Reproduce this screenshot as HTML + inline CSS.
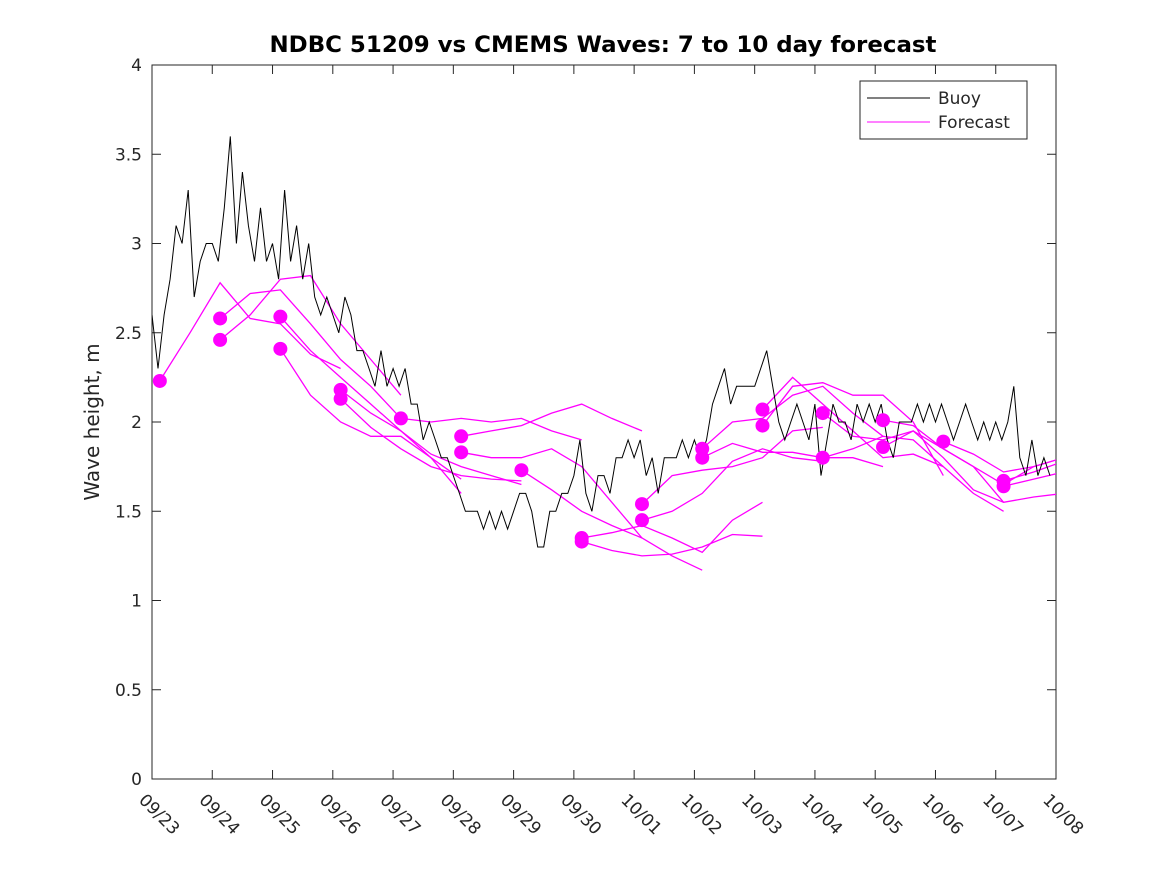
<!DOCTYPE html>
<html><head><meta charset="utf-8"><style>
body{margin:0;background:#fff;}
svg text{font-family:"DejaVu Sans","Liberation Sans",sans-serif;fill:#262626;}
</style></head><body>
<svg id="chart" width="1167" height="875" xmlns="http://www.w3.org/2000/svg">
<rect width="1167" height="875" fill="#fff"/>
<text x="603" y="52" text-anchor="middle" font-size="22" font-weight="bold" textLength="667" lengthAdjust="spacingAndGlyphs" style="fill:#000">NDBC 51209 vs CMEMS Waves: 7 to 10 day forecast</text>
<text transform="translate(99,422) rotate(-90)" text-anchor="middle" font-size="20">Wave height, m</text>
<defs><clipPath id="pc"><rect x="152" y="65" width="904" height="714"/></clipPath></defs>
<g id="axes"></g>
<g id="series" clip-path="url(#pc)"></g>
<g id="dots"></g>
<g>
<rect x="860" y="81" width="167" height="58" fill="#fff" stroke="#262626" stroke-width="1"/>
<line x1="867" y1="98" x2="930" y2="98" stroke="#000" stroke-width="1"/>
<text x="938" y="104" font-size="17">Buoy</text>
<line x1="867" y1="122" x2="930" y2="122" stroke="#f0f" stroke-width="1"/>
<text x="938" y="128" font-size="17">Forecast</text>
</g>
</svg>
<script>
const xTickLabels=["09/23","09/24","09/25","09/26","09/27","09/28","09/29","09/30","10/01","10/02","10/03","10/04","10/05","10/06","10/07","10/08"];
const yTicks=[0,0.5,1,1.5,2,2.5,3,3.5,4];
const yTickLabels=["0","0.5","1","1.5","2","2.5","3","3.5","4"];
const buoyStep=0.1;
const buoy=[2.6,2.3,2.6,2.8,3.1,3.0,3.3,2.7,2.9,3.0,
3.0,2.9,3.2,3.6,3.0,3.4,3.1,2.9,3.2,2.9,
3.0,2.8,3.3,2.9,3.1,2.8,3.0,2.7,2.6,2.7,
2.6,2.5,2.7,2.6,2.4,2.4,2.3,2.2,2.4,2.2,
2.3,2.2,2.3,2.1,2.1,1.9,2.0,1.9,1.8,1.8,
1.7,1.6,1.5,1.5,1.5,1.4,1.5,1.4,1.5,1.4,
1.5,1.6,1.6,1.5,1.3,1.3,1.5,1.5,1.6,1.6,
1.7,1.9,1.6,1.5,1.7,1.7,1.6,1.8,1.8,1.9,
1.8,1.9,1.7,1.8,1.6,1.8,1.8,1.8,1.9,1.8,
1.9,1.8,1.9,2.1,2.2,2.3,2.1,2.2,2.2,2.2,
2.2,2.3,2.4,2.2,2.0,1.9,2.0,2.1,2.0,1.9,
2.1,1.7,1.9,2.1,2.0,2.0,1.9,2.1,2.0,2.1,
2.0,2.1,1.9,1.8,2.0,2.0,2.0,2.1,2.0,2.1,
2.0,2.1,2.0,1.9,2.0,2.1,2.0,1.9,2.0,1.9,
2.0,1.9,2.0,2.2,1.8,1.7,1.9,1.7,1.8,1.7];
const fcStarts=[0.13,1.13,1.13,2.13,2.13,3.13,3.13,4.13,5.13,5.13,6.13,7.13,7.13,8.13,8.13,9.13,9.13,10.13,10.13,11.13,11.13,12.13,12.13,13.13,14.13,14.13];
const fcStep=0.5;
const fcValues=[
[2.23,2.5,2.78,2.58,2.55,2.38,2.3],
[2.58,2.72,2.74,2.55,2.35,2.2,2.02],
[2.46,2.6,2.8,2.82,2.55,2.35,2.15],
[2.59,2.4,2.25,2.1,1.95,1.8,1.68],
[2.41,2.15,2.0,1.92,1.92,1.8,1.6],
[2.18,2.05,1.95,1.82,1.75,1.7,1.65],
[2.13,1.97,1.85,1.75,1.7,1.68,1.67],
[2.02,2.0,2.02,2.0,2.02,1.95,1.9],
[1.92,1.95,1.98,2.05,2.1,2.02,1.95],
[1.83,1.8,1.8,1.85,1.75,1.55,1.35],
[1.73,1.62,1.5,1.42,1.35,1.25,1.17],
[1.35,1.38,1.42,1.35,1.27,1.45,1.55],
[1.33,1.28,1.25,1.26,1.3,1.37,1.36],
[1.54,1.7,1.73,1.75,1.8,1.95,1.97],
[1.45,1.5,1.6,1.78,1.85,1.8,1.78],
[1.85,2.0,2.02,2.15,2.2,2.05,1.92],
[1.80,1.88,1.83,1.83,1.8,1.8,1.75],
[2.07,2.25,2.1,1.95,1.8,1.82,1.75],
[1.98,2.2,2.22,2.15,2.15,2.0,1.7],
[2.05,1.92,1.9,1.95,1.85,1.75,1.55],
[1.80,1.85,1.92,1.9,1.75,1.6,1.5],
[2.01,1.98,1.85,1.75,1.65,1.75,1.8],
[1.86,1.95,1.8,1.62,1.55,1.58,1.6],
[1.89,1.82,1.72,1.75,1.8,1.85,1.88],
[1.67,1.72,1.78,1.85],
[1.64,1.68,1.72,1.77]];

const X0=152,X1=1056,Y0=779,Y1=65;
const xs=d=>X0+(X1-X0)*d/15;
const ys=v=>Y0-(Y0-Y1)*v/4;
const NS="http://www.w3.org/2000/svg";
function mk(tag,attrs,parent){const e=document.createElementNS(NS,tag);for(const k in attrs)e.setAttribute(k,attrs[k]);parent.appendChild(e);return e;}
const axes=document.getElementById('axes');
const box=mk('rect',{x:X0,y:Y1,width:X1-X0,height:Y0-Y1,fill:'none',stroke:'#262626','stroke-width':1},axes);


xTickLabels.forEach((t,i)=>{const x=xs(i);
 mk('line',{x1:x,y1:Y0,x2:x,y2:Y0-9,stroke:'#262626'},axes);
 mk('line',{x1:x,y1:Y1,x2:x,y2:Y1+9,stroke:'#262626'},axes);
 const tx=mk('text',{x:x-14,y:Y0+22,'font-size':17,transform:`rotate(45 ${x-14} ${Y0+22})`},axes);
 tx.textContent=t;
 
 
});
yTicks.forEach((v,i)=>{const y=ys(v);
 mk('line',{x1:X0,y1:y,x2:X0+9,y2:y,stroke:'#262626'},axes);
 mk('line',{x1:X1,y1:y,x2:X1-9,y2:y,stroke:'#262626'},axes);
 const tx=mk('text',{x:X0-10,y:y+6,'font-size':17,'text-anchor':'end'},axes);
 tx.textContent=yTickLabels[i];
 
 
});
const series=document.getElementById('series');
fcValues.forEach((vals,i)=>{const p=vals.map((v,j)=>xs(fcStarts[i]+j*fcStep).toFixed(1)+','+ys(v).toFixed(1)).join(' ');
 const l=mk('polyline',{points:p,fill:'none',stroke:'#f0f','stroke-width':1.3},series);
 
 
});
const bp=buoy.map((v,j)=>xs(j*buoyStep).toFixed(1)+','+ys(v).toFixed(1)).join(' ');
const bl=mk('polyline',{points:bp,fill:'none',stroke:'#000','stroke-width':1},series);


const dots=document.getElementById('dots');
fcValues.forEach((vals,i)=>{
 const c=mk('circle',{cx:xs(fcStarts[i]),cy:ys(vals[0]),r:7,fill:'#f0f'},dots);
 
 
});
</script>
</body></html>
